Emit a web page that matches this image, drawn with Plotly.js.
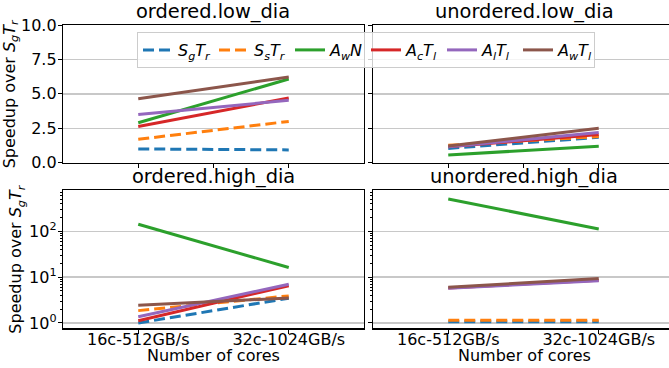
<!DOCTYPE html>
<html>
<head>
<meta charset="utf-8">
<script src="https://cdn.plot.ly/plotly-3.0.1.min.js"></script>
<style>html,body{margin:0;padding:0;background:#fff;}#chart{width:669px;height:368px;}</style>
</head>
<body>
<div id="chart"></div>
<script>
// ---- data ----
const categories = ["16c-512GB/s", "32c-1024GB/s"];
const seriesNames = [
  "<i>S</i><sub><i>g</i></sub><i>T</i><sub><i>r</i></sub>",
  "<i>S</i><sub><i>s</i></sub><i>T</i><sub><i>r</i></sub>",
  "<i>A</i><sub><i>w</i></sub><i>N</i>",
  "<i>A</i><sub><i>c</i></sub><i>T</i><sub><i>l</i></sub>",
  "<i>A</i><sub><i>l</i></sub><i>T</i><sub><i>l</i></sub>",
  "<i>A</i><sub><i>w</i></sub><i>T</i><sub><i>l</i></sub>"
];
const panelTitles = ["ordered.low_dia", "unordered.low_dia", "ordered.high_dia", "unordered.high_dia"];
const xAxisTitle = "Number of cores";

// ordered.low_dia
const orderedLow_SgTr = [1.0, 0.93];
const orderedLow_SsTr = [1.70, 3.0];
const orderedLow_AwN  = [2.9, 6.08];
const orderedLow_AcTl = [2.63, 4.7];
const orderedLow_AlTl = [3.5, 4.53];
const orderedLow_AwTl = [4.65, 6.23];
// unordered.low_dia
const unorderedLow_SgTr = [1.04, 1.84];
const unorderedLow_SsTr = [1.26, 1.9];
const unorderedLow_AwN  = [0.56, 1.2];
const unorderedLow_AcTl = [1.15, 2.05];
const unorderedLow_AlTl = [1.15, 2.2];
const unorderedLow_AwTl = [1.21, 2.5];
// ordered.high_dia
const orderedHigh_SgTr = [1.0, 3.46];
const orderedHigh_SsTr = [1.86, 3.9];
const orderedHigh_AwN  = [142, 16.2];
const orderedHigh_AcTl = [1.12, 6.5];
const orderedHigh_AlTl = [1.37, 7.0];
const orderedHigh_AwTl = [2.43, 3.5];
// unordered.high_dia
const unorderedHigh_SgTr = [1.07, 1.07];
const unorderedHigh_SsTr = [1.15, 1.15];
const unorderedHigh_AwN  = [507, 112];
const unorderedHigh_AcTl = [5.8, 8.6];
const unorderedHigh_AlTl = [5.7, 8.3];
const unorderedHigh_AwTl = [6.0, 9.3];

const panelData = [
  [orderedLow_SgTr, orderedLow_SsTr, orderedLow_AwN, orderedLow_AcTl, orderedLow_AlTl, orderedLow_AwTl],
  [unorderedLow_SgTr, unorderedLow_SsTr, unorderedLow_AwN, unorderedLow_AcTl, unorderedLow_AlTl, unorderedLow_AwTl],
  [orderedHigh_SgTr, orderedHigh_SsTr, orderedHigh_AwN, orderedHigh_AcTl, orderedHigh_AlTl, orderedHigh_AwTl],
  [unorderedHigh_SgTr, unorderedHigh_SsTr, unorderedHigh_AwN, unorderedHigh_AcTl, unorderedHigh_AlTl, unorderedHigh_AwTl]
];

// ---- styles ----
const colors = ["#1f77b4", "#ff7f0e", "#2ca02c", "#d62728", "#9467bd", "#8c564b"];
const dashes = ["11px,5px", "11px,5px", "solid", "solid", "solid", "solid"];
const FONT = "DejaVu Sans";
const W = 669, H = 368;

const xIdx = categories.map((c, i) => i);
const axisSuffix = ["", "2", "3", "4"];

const traces = [];
panelData.forEach((series, p) => {
  series.forEach((vals, s) => {
    traces.push({
      type: "scatter", mode: "lines",
      x: xIdx, y: vals,
      name: seriesNames[s],
      legendgroup: "s" + s,
      showlegend: p === 0,
      line: {color: colors[s], width: 3, dash: dashes[s]},
      xaxis: "x" + axisSuffix[p], yaxis: "y" + axisSuffix[p],
      hoverinfo: "skip"
    });
  });
});

// pixel geometry
const leftDom = [63 / W, 364 / W];
const rightDom = [373 / W, 1];
const topDom = [1 - 162.7 / H, 1 - 25 / H];
const botDom = [1 - 328.3 / H, 1 - 190 / H];
const pxPerUnit = (364 - 63) / 2;
const rightMax = -0.5 + (W - 373) / pxPerUnit;

const baseX = {
  type: "linear", showline: true, linecolor: "#000", linewidth: 1.2,
  ticks: "outside", ticklen: 4, tickwidth: 1, tickcolor: "#000",
  showgrid: false, zeroline: false, fixedrange: true,
  tickfont: {family: FONT, size: 16, color: "#000"}
};
const baseY = {
  showline: true, linecolor: "#000", linewidth: 1.2,
  ticks: "outside", ticklen: 4, tickwidth: 1, tickcolor: "#000",
  showgrid: true, gridcolor: "#c8c8c8", gridwidth: 1.3, zeroline: false, fixedrange: true,
  tickfont: {family: FONT, size: 16, color: "#000"}
};
const minorLog = {ticks: "outside", ticklen: 2, tickcolor: "#000",
  tickvals: [2,3,4,5,6,7,8,9,20,30,40,50,60,70,80,90,200,300,400,500,600,700], showgrid: false};

const layout = {
  width: W, height: H,
  margin: {l: 0, r: 0, t: 0, b: 0},
  paper_bgcolor: "#fff", plot_bgcolor: "#fff",
  font: {family: FONT, size: 16, color: "#000"},
  showlegend: true,
  legend: {
    orientation: "h", x: 137 / W, y: 1 - 32 / H, xanchor: "left", yanchor: "top",
    bgcolor: "rgba(255,255,255,0.8)", bordercolor: "#cccccc", borderwidth: 1,
    font: {family: FONT, size: 16, color: "#000"}, traceorder: "normal",
    entrywidth: 31, entrywidthmode: "pixels", tracegroupgap: 0
  },
  xaxis: Object.assign({}, baseX, {domain: leftDom, anchor: "y", range: [-0.5, 1.5], mirror: true,
    tickmode: "array", tickvals: [0, 0.5, 1], showticklabels: false}),
  xaxis2: Object.assign({}, baseX, {domain: rightDom, anchor: "y2", range: [-0.5, rightMax], mirror: true,
    tickmode: "array", tickvals: [0, 0.5, 1], showticklabels: false}),
  xaxis3: Object.assign({}, baseX, {domain: leftDom, anchor: "y3", range: [-0.5, 1.5], mirror: true,
    tickmode: "array", tickvals: xIdx, ticktext: categories, ticklabelstandoff: -8}),
  xaxis4: Object.assign({}, baseX, {domain: rightDom, anchor: "y4", range: [-0.5, rightMax], mirror: true,
    tickmode: "array", tickvals: xIdx, ticktext: categories, ticklabelstandoff: -8}),
  yaxis: Object.assign({}, baseY, {domain: topDom, anchor: "x", range: [0, 10], mirror: true, ticklabelstandoff: -2,
    tickmode: "array", tickvals: [0, 2.5, 5, 7.5, 10], ticktext: ["0.0", "2.5", "5.0", "7.5", "10.0"]}),
  yaxis2: Object.assign({}, baseY, {domain: topDom, anchor: "x2", range: [0, 10], mirror: false,
    tickmode: "array", tickvals: [0, 2.5, 5, 7.5, 10], showticklabels: false}),
  yaxis3: Object.assign({}, baseY, {domain: botDom, anchor: "x3", type: "log", range: [-0.116, 2.90], mirror: true, ticklabelstandoff: -2,
    tickmode: "array", tickvals: [1, 10, 100], ticktext: ["10<sup>0</sup>", "10<sup>1</sup>", "10<sup>2</sup>"],
    minor: minorLog}),
  yaxis4: Object.assign({}, baseY, {domain: botDom, anchor: "x4", type: "log", range: [-0.116, 2.90], mirror: false,
    tickmode: "array", tickvals: [1, 10, 100], showticklabels: false, minor: minorLog}),
  annotations: []
};

// panel titles
const doms = [[leftDom, topDom], [[373 / W, 675 / W], topDom], [leftDom, botDom], [[373 / W, 675 / W], botDom]];
panelTitles.forEach((t, i) => {
  const [xd, yd] = doms[i];
  layout.annotations.push({
    text: t, xref: "paper", yref: "paper",
    x: (xd[0] + xd[1]) / 2, y: yd[1], xanchor: "center", yanchor: "bottom",
    showarrow: false, font: {family: FONT, size: 19.4, color: "#000"}
  });
});
// x titles
[leftDom, [373 / W, 675 / W]].forEach(xd => {
  layout.annotations.push({
    text: xAxisTitle, xref: "paper", yref: "paper",
    x: (xd[0] + xd[1]) / 2, y: 1 - 355 / H, xanchor: "center", yanchor: "middle",
    showarrow: false, font: {family: FONT, size: 16, color: "#000"}
  });
});
// y titles
const yTitleText = "Speedup over <i>S</i><sub><i>g</i></sub><i>T</i><sub><i>r</i></sub>";
[[topDom, 23], [botDom, 29]].forEach(([yd, xr]) => {
  layout.annotations.push({
    text: yTitleText, xref: "paper", yref: "paper",
    x: xr / W, y: (yd[0] + yd[1]) / 2, xanchor: "right", yanchor: "middle",
    textangle: -90, showarrow: false, font: {family: FONT, size: 16, color: "#000"}
  });
});

Plotly.newPlot("chart", traces, layout, {staticPlot: true, displayModeBar: false});
</script>
</body>
</html>
